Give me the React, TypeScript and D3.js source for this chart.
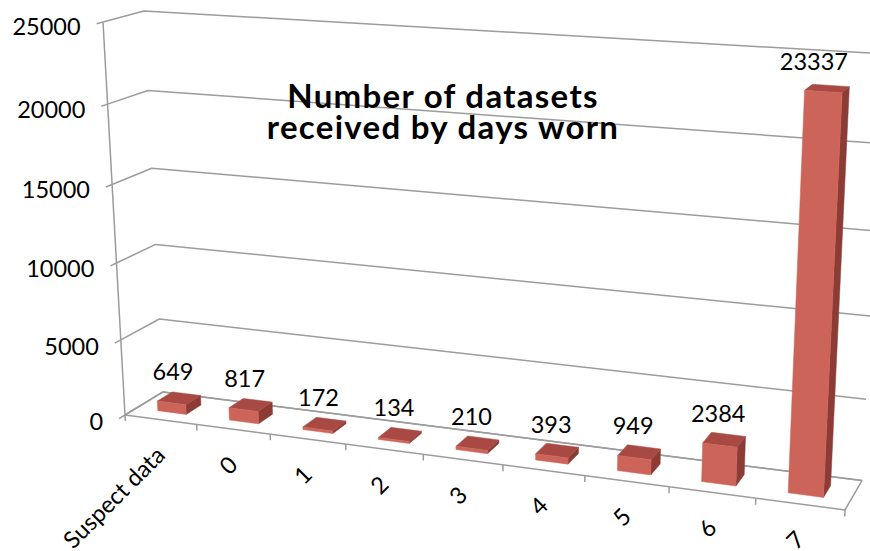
import React from 'react';
import * as d3 from 'd3';

const categories = ['Suspect data', '0', '1', '2', '3', '4', '5', '6', '7'];
const counts = [649, 817, 172, 134, 210, 393, 949, 2384, 23337];
const valueTicks = [0, 5000, 10000, 15000, 20000, 25000];
const titleLines = ['Number of datasets', 'received by days worn'];

const WIDTH = 870;
const HEIGHT = 551;
const FONT = 'Lato, "Open Sans", "DejaVu Sans", sans-serif';
const LABEL_SIZE = 23.5;

const GRID = '#9c9c9c';
const FACE_FRONT = '#cd6459';
const FACE_TOP = '#a84a43';
const FACE_SIDE = '#8d3b35';

// Perspective camera for the plot box. World coordinates are normalised:
// x = category position (0..1), y = value (0..1), z = depth (0 front, 1 back).
// Each entry is the homogeneous image of one axis direction, plus the origin.
const CAMERA = {
  ex: [622.0, 35.8, -0.116],
  ey: [-27.56, -394.2, -0.054],
  ez: [43.4, -10.1, 0.033],
  origin: [125, 415, 1],
};

type Pt = [number, number];

function project(x: number, y: number, z: number): Pt {
  const h = [0, 1, 2].map(
    (k) => CAMERA.origin[k] + x * CAMERA.ex[k] + y * CAMERA.ey[k] + z * CAMERA.ez[k]
  );
  return [h[0] / h[2], h[1] / h[2]];
}

const xBand = d3
  .scaleBand<string>()
  .domain(categories)
  .range([0, 1])
  .paddingInner(0.6)
  .paddingOuter(0.3);

const yScale = d3.scaleLinear().domain([0, 25000]).range([0, 1]);

// Bars occupy the middle of the floor depth
const depth = d3.scaleLinear().domain([0, 1]).range([0.3, 0.7]);

const line = d3.line<Pt>();

function poly(pts: Pt[]) {
  return line(pts)! + 'Z';
}

// Data labels are kept inside the plot's right edge
const LABEL_RIGHT_LIMIT = 848;
const approxTextWidth = (s: string) => s.length * LABEL_SIZE * 0.58;

export default function App() {
  const step = xBand.step();
  const z0 = depth(0);
  const z1 = depth(1);

  const bars = categories.map((c, i) => {
    const x0 = xBand(c)!;
    const x1 = x0 + xBand.bandwidth();
    const h = yScale(counts[i]);
    const front = [project(x0, 0, z0), project(x1, 0, z0), project(x1, h, z0), project(x0, h, z0)];
    const top = [project(x0, h, z0), project(x1, h, z0), project(x1, h, z1), project(x0, h, z1)];
    const side = [project(x1, 0, z0), project(x1, 0, z1), project(x1, h, z1), project(x1, h, z0)];
    const anchor = project((x0 + x1) / 2, h, 0.5);
    const text = String(counts[i]);
    const half = approxTextWidth(text) / 2;
    const lx = Math.min(anchor[0] - 6, LABEL_RIGHT_LIMIT - half);
    const ly = anchor[1] - 18;
    return { c, front, top, side, lx, ly, text };
  });

  // Gridlines: along the side wall (z 0..1 at x=0) then across the back wall (x 0..1 at z=1)
  const gridlines = valueTicks.map((v) => {
    const y = yScale(v);
    return [project(0, y, 0), project(0, y, 1), project(1, y, 1)] as Pt[];
  });

  const floor = [project(0, 0, 0), project(1, 0, 0), project(1, 0, 1), project(0, 0, 1)];

  const catTicks = d3.range(categories.length + 1).map((k) => {
    const x = k * step;
    return [project(x, 0, 0), project(x, -0.016, 0)] as Pt[];
  });

  return (
    <svg
      width={WIDTH}
      height={HEIGHT}
      viewBox={`0 0 ${WIDTH} ${HEIGHT}`}
      style={{ position: 'absolute', left: 0, top: 0, background: '#fff', display: 'block' }}
      fontFamily={FONT}
    >
      <rect width={WIDTH} height={HEIGHT} fill="#fff" />

      {/* walls, floor and axes */}
      <g fill="none" stroke={GRID} strokeWidth={1.5} strokeLinejoin="round">
        {gridlines.map((pts, i) => (
          <path key={i} d={line(pts)!} />
        ))}
        <path d={poly(floor)} />
        <path d={line([project(0, 0, 0), project(0, 1, 0)])!} />
        {valueTicks.map((v) => (
          <path key={v} d={line([project(0, yScale(v), -0.15), project(0, yScale(v), 0)])!} />
        ))}
        {catTicks.map((pts, k) => (
          <path key={k} d={line(pts)!} />
        ))}
      </g>

      {/* title */}
      <g fontWeight={700} fontSize={33} fill="#000" textAnchor="middle" letterSpacing={1.3}>
        {titleLines.map((t, i) => (
          <text key={t} x={443} y={108 + i * 31}>
            {t}
          </text>
        ))}
      </g>

      {/* bars */}
      <g>
        {bars.map((b) => (
          <g key={b.c}>
            <path d={poly(b.side)} fill={FACE_SIDE} stroke={FACE_SIDE} strokeWidth={0.5} />
            <path d={poly(b.top)} fill={FACE_TOP} stroke={FACE_TOP} strokeWidth={0.5} />
            <path d={poly(b.front)} fill={FACE_FRONT} stroke={FACE_FRONT} strokeWidth={0.5} />
          </g>
        ))}
      </g>

      {/* data labels */}
      <g fontSize={LABEL_SIZE} fill="#000" textAnchor="middle">
        {bars.map((b) => (
          <text key={b.c} x={b.lx} y={b.ly}>
            {b.text}
          </text>
        ))}
      </g>

      {/* value axis labels */}
      <g fontSize={LABEL_SIZE} fill="#000" textAnchor="end">
        {valueTicks.map((v) => {
          const [px, py] = project(0, yScale(v), -0.15);
          return (
            <text key={v} x={px - 16} y={py + 2.5} dominantBaseline="central">
              {v}
            </text>
          );
        })}
      </g>

      {/* category labels */}
      <g fontSize={LABEL_SIZE} fill="#000" textAnchor="end">
        {categories.map((c) => {
          const [px, py] = project(xBand(c)! + xBand.bandwidth() / 2, 0, 0);
          const ax = px + 6;
          const ay = py + 37;
          return (
            <text key={c} x={ax} y={ay} transform={`rotate(-45 ${ax} ${ay})`}>
              {c}
            </text>
          );
        })}
      </g>
    </svg>
  );
}
